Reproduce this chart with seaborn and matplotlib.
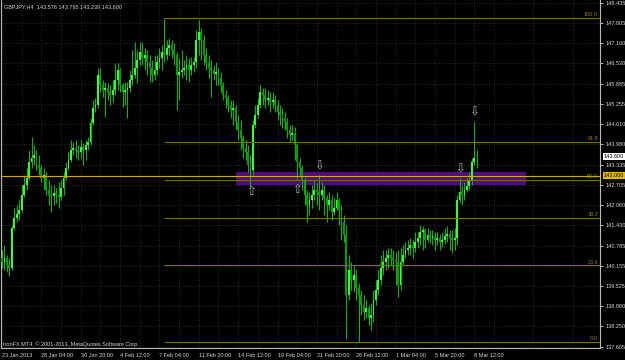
import numpy as np
import pandas as pd
import matplotlib
matplotlib.use("Agg")
import matplotlib.pyplot as plt
import matplotlib.transforms as mtransforms
from matplotlib.patches import Rectangle
import seaborn as sns

# ---------------- data (GBPJPY H4) ----------------
opens = [
    140.40, 140.28, 140.40, 140.18, 140.09, 141.35, 141.66, 141.79, 141.92, 142.39,
    142.70, 142.92, 143.43, 143.55, 143.65, 143.33, 143.24, 142.92, 143.02, 142.55,
    142.39, 142.36, 142.45, 142.39, 142.32, 142.61, 142.92, 143.24, 143.49, 143.81,
    143.87, 143.81, 143.74, 143.90, 143.81, 143.96, 144.06, 144.66, 145.13, 145.22,
    146.17, 145.85, 145.70, 145.76, 145.63, 145.54, 145.70, 146.01, 146.33, 145.85,
    145.63, 145.70, 145.76, 146.01, 146.17, 146.39, 146.64, 146.89, 146.70, 146.80,
    146.58, 146.39, 146.17, 146.33, 146.58, 146.70, 146.89, 146.80, 147.02, 147.11,
    146.96, 146.80, 146.17, 146.26, 146.33, 146.39, 146.48, 146.33, 146.48, 146.58,
    147.27, 147.52, 147.27, 146.80, 146.55, 146.39, 146.33, 146.20, 146.26, 146.07,
    145.85, 145.54, 145.44, 145.22, 145.07, 145.13, 144.69, 144.44, 144.18, 143.87,
    143.74, 143.33, 143.18, 144.59, 144.91, 145.22, 145.63, 145.54, 145.38, 145.44,
    145.32, 145.38, 145.22, 145.00, 144.91, 144.81, 144.69, 144.44, 144.28, 144.34,
    143.96, 143.43, 143.24, 142.86, 142.39, 142.07, 142.23, 142.39, 142.55, 142.48,
    142.39, 142.55, 142.29, 142.07, 142.23, 141.85, 141.98, 142.23, 141.92, 141.54,
    141.13, 139.24, 140.03, 139.71, 139.87, 139.46, 139.24, 138.92, 138.70, 138.83,
    138.51, 138.61, 139.08, 139.40, 139.71, 140.09, 140.28, 140.40, 140.50, 140.40,
    140.34, 140.28, 139.55, 140.28, 140.50, 140.66, 140.72, 140.81, 140.72, 140.91,
    141.03, 141.22, 141.29, 140.97, 141.13, 141.03, 141.10, 140.97, 141.03, 140.91,
    140.97, 141.10, 141.16, 141.03, 140.97, 141.03, 142.23, 142.48, 142.39, 142.55,
    142.67, 142.86, 143.43, 143.576]
highs = [
    140.66, 140.81, 140.50, 140.40, 141.44, 141.98, 142.07, 142.23, 142.70, 143.02,
    143.24, 143.81, 144.21, 143.96, 143.81, 143.65, 143.33, 143.24, 143.11, 142.86,
    142.70, 142.70, 142.61, 142.80, 142.86, 143.11, 143.43, 143.74, 144.12, 144.06,
    144.12, 143.96, 144.12, 144.03, 144.12, 144.21, 144.81, 145.38, 145.44, 146.39,
    146.39, 146.01, 145.95, 145.92, 145.85, 146.01, 146.55, 146.55, 146.39, 145.92,
    145.95, 145.95, 146.33, 146.96, 147.21, 146.96, 147.21, 147.21, 147.02, 146.96,
    146.80, 146.64, 146.80, 146.80, 147.02, 147.11, 147.96, 147.27, 147.33, 147.27,
    147.18, 146.89, 146.70, 146.96, 146.64, 146.80, 146.70, 146.73, 146.73, 147.59,
    147.90, 147.65, 147.43, 147.02, 146.80, 146.64, 146.48, 146.58, 146.39, 146.26,
    145.95, 145.70, 145.54, 145.38, 145.38, 145.22, 144.91, 144.75, 144.28, 144.12,
    143.96, 143.65, 144.75, 145.22, 145.44, 145.85, 145.76, 145.76, 145.70, 145.63,
    145.63, 145.54, 145.38, 145.22, 145.13, 145.00, 144.81, 144.59, 144.59, 144.53,
    144.03, 143.55, 143.33, 142.92, 142.55, 142.48, 142.70, 142.86, 142.77, 143.02,
    142.80, 142.70, 142.39, 142.48, 142.39, 142.29, 142.48, 142.29, 142.07, 141.76,
    141.44, 140.50, 140.28, 140.18, 140.03, 139.62, 139.40, 139.24, 139.08, 138.92,
    138.99, 139.40, 139.71, 140.03, 140.50, 140.66, 140.66, 140.72, 140.72, 140.66,
    140.59, 140.66, 140.72, 140.81, 140.91, 140.97, 141.03, 140.97, 141.22, 141.22,
    141.44, 141.41, 141.35, 141.35, 141.29, 141.29, 141.22, 141.22, 141.16, 141.22,
    141.35, 141.41, 141.29, 141.29, 141.35, 142.39, 142.92, 142.70, 142.80, 142.92,
    143.11, 143.55, 144.69, 143.795]
lows = [
    140.09, 140.03, 139.96, 139.84, 140.03, 141.29, 141.54, 141.60, 141.85, 142.32,
    142.55, 142.86, 143.24, 143.33, 143.18, 143.02, 142.80, 142.55, 142.39, 142.07,
    141.85, 142.07, 142.14, 141.98, 142.23, 142.39, 142.86, 143.18, 143.43, 143.65,
    143.55, 143.49, 143.55, 143.33, 143.49, 143.81, 143.96, 144.59, 145.00, 145.13,
    145.63, 145.47, 144.84, 145.38, 145.22, 145.32, 145.54, 145.70, 145.63, 145.16,
    145.22, 144.81, 145.63, 145.85, 146.07, 145.92, 146.48, 146.48, 146.33, 146.17,
    145.95, 145.95, 146.01, 146.17, 146.39, 146.33, 146.58, 146.64, 146.80, 146.70,
    146.48, 145.07, 145.38, 146.07, 146.17, 146.01, 145.95, 146.17, 146.26, 146.39,
    146.80, 146.64, 146.48, 146.33, 146.07, 145.47, 146.01, 145.85, 145.85, 145.63,
    145.38, 145.13, 145.00, 144.81, 144.59, 144.44, 144.12, 143.81, 143.55, 143.49,
    143.11, 142.64, 143.02, 144.50, 144.81, 145.13, 145.22, 145.13, 145.22, 145.00,
    145.13, 145.00, 144.75, 144.59, 144.50, 144.44, 144.18, 144.06, 144.12, 143.49,
    142.86, 143.02, 142.55, 142.07, 141.54, 141.76, 141.98, 142.23, 142.07, 141.92,
    142.23, 141.76, 141.54, 141.92, 141.60, 141.76, 141.92, 141.44, 140.97, 140.91,
    137.84, 139.08, 139.40, 139.33, 139.08, 137.77, 138.61, 138.45, 138.51, 138.29,
    138.14, 138.39, 138.92, 139.24, 139.55, 139.87, 140.03, 140.09, 140.18, 140.03,
    139.55, 139.17, 139.40, 140.18, 140.40, 140.50, 140.50, 140.40, 140.59, 140.72,
    140.81, 140.66, 140.72, 140.91, 140.88, 140.81, 140.66, 140.81, 140.66, 140.75,
    140.84, 140.91, 140.66, 140.56, 140.66, 140.81, 142.14, 142.07, 142.23, 142.48,
    142.55, 142.70, 143.33, 143.239]
closes = [
    140.28, 140.40, 140.18, 140.09, 141.35, 141.66, 141.79, 141.92, 142.39, 142.70,
    142.92, 143.43, 143.55, 143.65, 143.33, 143.24, 142.92, 143.02, 142.55, 142.39,
    142.36, 142.45, 142.39, 142.32, 142.61, 142.92, 143.24, 143.49, 143.81, 143.87,
    143.81, 143.74, 143.90, 143.81, 143.96, 144.06, 144.66, 145.13, 145.22, 146.17,
    145.85, 145.70, 145.76, 145.63, 145.54, 145.70, 146.01, 146.33, 145.85, 145.63,
    145.70, 145.76, 146.01, 146.17, 146.39, 146.64, 146.89, 146.70, 146.80, 146.58,
    146.39, 146.17, 146.33, 146.58, 146.70, 146.89, 146.80, 147.02, 147.11, 146.96,
    146.80, 146.17, 146.26, 146.33, 146.39, 146.48, 146.33, 146.48, 146.58, 147.27,
    147.52, 147.27, 146.80, 146.55, 146.39, 146.33, 146.20, 146.26, 146.07, 145.85,
    145.54, 145.44, 145.22, 145.07, 145.13, 144.69, 144.44, 144.18, 143.87, 143.74,
    143.33, 143.18, 144.59, 144.91, 145.22, 145.63, 145.54, 145.38, 145.44, 145.32,
    145.38, 145.22, 145.00, 144.91, 144.81, 144.69, 144.44, 144.28, 144.34, 143.96,
    143.43, 143.24, 142.86, 142.39, 142.07, 142.23, 142.39, 142.55, 142.48, 142.39,
    142.55, 142.29, 142.07, 142.23, 141.85, 141.98, 142.23, 141.92, 141.54, 141.13,
    139.24, 140.03, 139.71, 139.87, 139.46, 139.24, 138.92, 138.70, 138.83, 138.51,
    138.61, 139.08, 139.40, 139.71, 140.09, 140.28, 140.40, 140.50, 140.40, 140.34,
    140.28, 139.55, 140.28, 140.50, 140.66, 140.72, 140.81, 140.72, 140.91, 141.03,
    141.22, 141.29, 140.97, 141.13, 141.03, 141.10, 140.97, 141.03, 140.91, 140.97,
    141.10, 141.16, 141.03, 140.97, 141.03, 142.23, 142.48, 142.39, 142.55, 142.67,
    142.86, 143.43, 143.55, 143.600]

time_labels = ["23 Jan 2013", "28 Jan 04:00", "30 Jan 20:00", "4 Feb 12:00",
               "7 Feb 04:00", "11 Feb 20:00", "14 Feb 12:00", "19 Feb 04:00",
               "21 Feb 20:00", "26 Feb 12:00", "1 Mar 04:00", "5 Mar 20:00",
               "8 Mar 12:00"]
time_label_bars = [0, 16, 32, 48, 64, 80, 96, 112, 128, 144, 160, 176, 192]
grid_minor_bars = [8, 24, 40, 56, 72, 88, 104, 120, 136, 152, 168, 184, 200, 216, 232]

price_ticks = [148.435, 147.805, 147.160, 146.530, 145.885, 145.255, 144.610,
               143.980, 143.335, 142.705, 142.060, 141.430, 140.785, 140.155,
               139.525, 138.880, 138.250, 137.605]

fib_high = 147.96
fib_low = 137.77
fib_start_bar = 66
fib_ratios = [0.0, 23.6, 38.2, 50.0, 61.8, 100.0]

level_price = 143.000
bid_price = 143.600
zone_low, zone_high = 142.705, 143.115
zone_start_bar, zone_end_bar = 95, 213

arrow_up_bars = [101, 120]
arrow_up_prices = [142.50, 142.56]
arrow_dn_bars = [129, 186, 192]
arrow_dn_prices = [143.30, 143.21, 145.00]

title_text = "GBPJPY,H4  143.576 143.795 143.239 143.600"
copyright_text = "IronFX MT4, \u00a9 2001-2013, MetaQuotes Software Corp."

# ---------------- style ----------------
sns.set_theme(style="dark", rc={
    "axes.facecolor": "black", "figure.facecolor": "black",
    "axes.edgecolor": "#b8b8b8", "grid.color": "#3a3a3a",
})
plt.rcParams["font.family"] = ["Liberation Sans", "DejaVu Sans"]

TXT = "#d4d4d4"
FS = 4.0

df = pd.DataFrame({"open": opens, "high": highs, "low": lows, "close": closes})
df["bar"] = np.arange(len(df))
df["up"] = df["close"] >= df["open"]

fig = plt.figure(figsize=(6.25, 3.6), dpi=100)
fig.patch.set_facecolor("black")
ax = fig.add_axes([1 / 625, 12 / 360, 599 / 625, 348 / 360])
ax.set_facecolor("black")
ax.set_xlim(-0.41, 243.1)
ax.set_ylim(137.572, 148.529)

# grid
ax.set_xticks(time_label_bars)
ax.set_xticks(grid_minor_bars, minor=True)
ax.set_yticks(price_ticks)
ax.grid(which="both", axis="x", color="#363636", lw=0.6, ls=(0, (1, 2)))
ax.grid(which="major", axis="y", color="#363636", lw=0.6, ls=(0, (1, 2)))
ax.set_axisbelow(True)

# zone rectangle (background object)
ax.add_patch(Rectangle((zone_start_bar, zone_low), zone_end_bar - zone_start_bar,
                       zone_high - zone_low, facecolor="#4e0a88", edgecolor="none",
                       zorder=1.5))

# candles
ax.vlines(df["bar"], df["low"], df["high"], color="#00c400", lw=0.7, zorder=3)
body_bottom = np.minimum(df["open"], df["close"])
body_height = (df["close"] - df["open"]).abs().clip(lower=0.02)
body_colors = np.where(df["up"], "#30ff30", "#00a000")
ax.bar(df["bar"], body_height, bottom=body_bottom, width=0.75,
       color=body_colors, linewidth=0, zorder=4)

# horizontal level
ax.axhline(level_price, color="#d2a800", lw=0.8, zorder=5)

# fibonacci retracement
blend = mtransforms.blended_transform_factory(ax.transAxes, ax.transData)
for r in fib_ratios:
    lvl = fib_low + (fib_high - fib_low) * r / 100.0
    ax.hlines(lvl, fib_start_bar, 243.1, color="#7a7000", lw=0.8, zorder=5)
    ax.text(1 - 2 / 599, lvl + 0.02, f"{r:.1f}", transform=blend, ha="right",
            va="bottom", fontsize=FS, color="#8c8200", zorder=6)

# arrows
for b, p in zip(arrow_up_bars, arrow_up_prices):
    ax.text(b, p, "\u21e7", ha="center", va="center", fontsize=8.5,
            color="#b8b8b8", family="DejaVu Sans", zorder=7)
for b, p in zip(arrow_dn_bars, arrow_dn_prices):
    ax.text(b, p, "\u21e9", ha="center", va="center", fontsize=8.5,
            color="#b8b8b8", family="DejaVu Sans", zorder=7)

# spines / ticks
ax.spines["top"].set_visible(False)
for s in ("left", "right", "bottom"):
    ax.spines[s].set_color("#b8b8b8")
    ax.spines[s].set_linewidth(0.8)
ax.yaxis.tick_right()
ax.set_yticklabels([f"{v:.3f}" for v in price_ticks])
ax.tick_params(axis="y", which="major", right=True, left=False, labelright=True,
               labelleft=False, length=2.5, width=0.6, colors=TXT,
               labelsize=FS, pad=1.5)
ax.set_xticklabels(time_labels, ha="left")
ax.tick_params(axis="x", which="major", length=2.5, width=0.6, colors=TXT,
               labelsize=FS, pad=1.0)
ax.tick_params(axis="x", which="minor", length=0)

# highlighted price labels
ax.text(1 + 4 / 599, bid_price, f"{bid_price:.3f}", transform=blend, ha="left",
        va="center", fontsize=FS, color="black", zorder=8, clip_on=False,
        bbox=dict(boxstyle="square,pad=0.25", fc="white", ec="none"))
ax.text(1 + 4 / 599, level_price, f"{level_price:.3f}", transform=blend, ha="left",
        va="center", fontsize=FS, color="black", zorder=8, clip_on=False,
        bbox=dict(boxstyle="square,pad=0.25", fc="#e6b800", ec="none"))

# texts
fig.text(4 / 625, 1 - 6.5 / 360, title_text, fontsize=FS, color=TXT,
         ha="left", va="center")
fig.text(3 / 625, 1 - 344 / 360, copyright_text, fontsize=FS, color=TXT,
         ha="left", va="center")

fig.savefig("out.png", dpi=100, facecolor="black")
